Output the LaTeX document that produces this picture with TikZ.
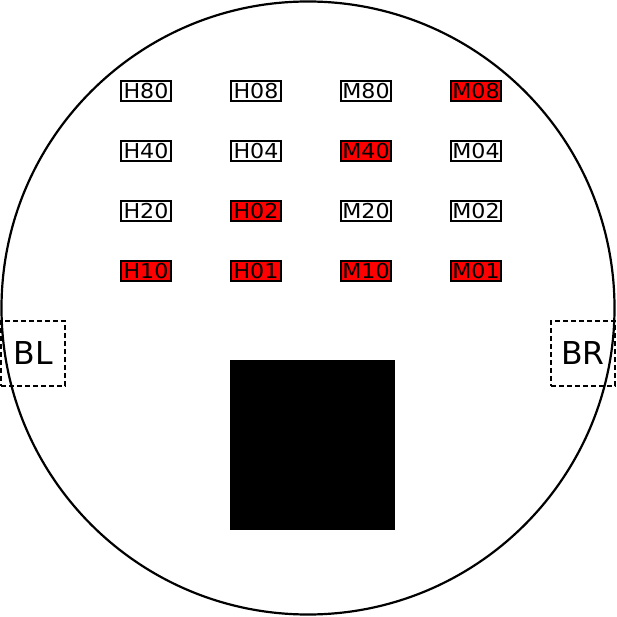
\documentclass[tikz,border=0pt]{standalone}
\usepackage{fontspec}
\setmainfont{DejaVu Sans}
\newcommand{\widelbl}[1]{\scalebox{1.08}[1]{#1}}
\begin{document}
\begin{tikzpicture}[x=1pt,y=-1pt,
  lab/.style={draw=black, line width=1.5pt, minimum width=50pt, minimum height=20pt, inner sep=0pt,
    font=\fontsize{20.5}{20.5}\selectfont, text=black},
  on/.style={lab, fill=red},
  off/.style={lab, fill=white},
  side/.style={draw=black, dashed, dash pattern=on 5pt off 3pt, line width=1.4pt, minimum width=64pt, minimum height=65pt, inner sep=0pt,
    font=\fontsize{31.5}{31.5}\selectfont}]
\useasboundingbox (0,0) rectangle (617,617);
\draw[line width=2.2pt] (308,308) circle (306.5);
\node[off] (H80) at (146,91) {\widelbl{H80}};
\node[off] (H08) at (256,91) {\widelbl{H08}};
\node[off] (M80) at (366,91) {\widelbl{M80}};
\node[on]  (M08) at (476,91) {\widelbl{M08}};
\node[off] (H40) at (146,151) {\widelbl{H40}};
\node[off] (H04) at (256,151) {\widelbl{H04}};
\node[on]  (M40) at (366,151) {\widelbl{M40}};
\node[off] (M04) at (476,151) {\widelbl{M04}};
\node[off] (H20) at (146,211) {\widelbl{H20}};
\node[on]  (H02) at (256,211) {\widelbl{H02}};
\node[off] (M20) at (366,211) {\widelbl{M20}};
\node[off] (M02) at (476,211) {\widelbl{M02}};
\node[on]  (H10) at (146,271) {\widelbl{H10}};
\node[on]  (H01) at (256,271) {\widelbl{H01}};
\node[on]  (M10) at (366,271) {\widelbl{M10}};
\node[on]  (M01) at (476,271) {\widelbl{M01}};
\node[side] (BL) at (33,353.5) {BL};
\node[side] (BR) at (583,353.5) {BR};
\fill[black] (230,360) rectangle (395,530);
\end{tikzpicture}
\end{document}
